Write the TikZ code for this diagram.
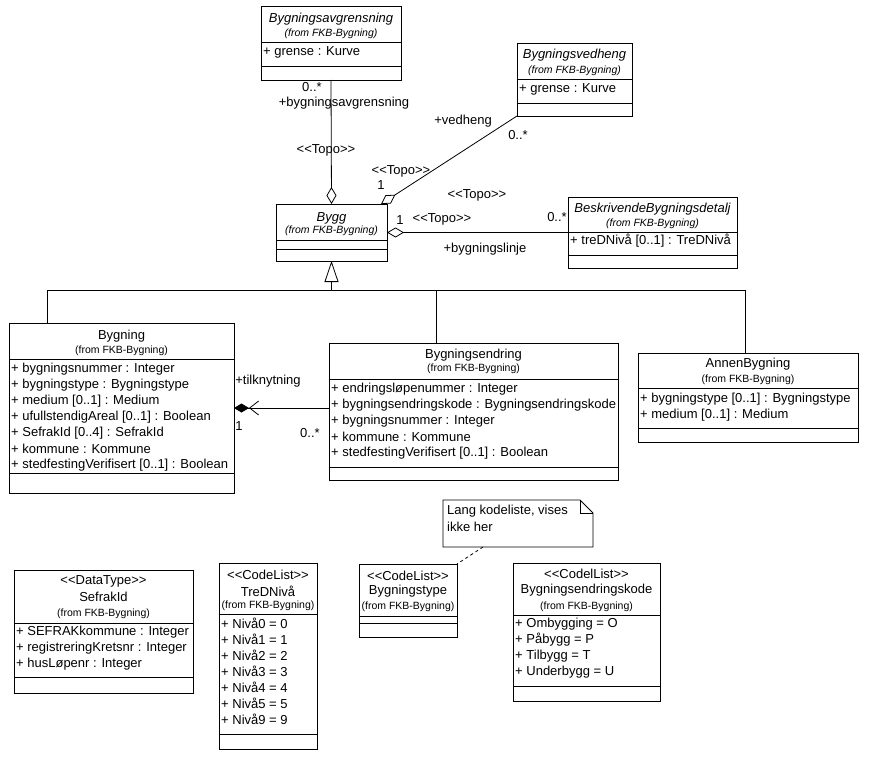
\documentclass[tikz,border=0pt]{standalone}
\usepackage{fontspec}
\setmainfont{Liberation Sans}
\usetikzlibrary{arrows.meta,calc}
\tikzset{
  ln/.style={line width=0.8pt, draw=black},
  cls/.style={draw=black, line width=0.8pt, inner sep=0pt, outer sep=0pt},
  txt/.style={inner sep=0pt, font=\fontsize{13}{15}\selectfont},
  itxt/.style={inner sep=0pt, font=\fontsize{13}{15}\selectfont\itshape},
  small/.style={inner sep=0pt, font=\fontsize{10.5}{12}\selectfont},
  ismall/.style={inner sep=0pt, font=\fontsize{10.5}{12}\selectfont\itshape},
  odiamond/.style={-{Diamond[open, fill=white, length=17pt, width=10pt]}},
}
\newcommand{\umlcls}[7]{%
  \node[cls, minimum width={(#4-#2)*1pt}, minimum height={(#5-#3)*1pt}] (#1) at ({(#2+#4)/2},{(#3+#5)/2}) {};
  \draw[ln] (#2,#6) -- (#4,#6);
  \draw[ln] (#2,#7) -- (#4,#7);
}
\newcommand{\attrs}[4]{%
  \foreach \t [count=\i] in {#4} \node[txt, anchor=west] (#1-a\i) at (#2,{#3+(\i-1)*16}) {\t};
}
\begin{document}
\begin{tikzpicture}[x=1pt,y=-1pt]
\fill[white] (0,0) rectangle (877,757);
\useasboundingbox (0,0) rectangle (877,757);

% ---------- classes ----------
\umlcls{avg}{261}{6}{401}{80}{42}{66}
\node[itxt] (avg-n) at (331,19) {Bygningsavgrensning};
\node[ismall] (avg-f) at (331,34) {(from FKB-Bygning)};
\attrs{avg}{263}{52}{{+ grense : Kurve}}

\umlcls{ved}{517}{43}{632}{116}{79}{103}
\node[itxt] (ved-n) at (574.5,55) {Bygningsvedheng};
\node[ismall] (ved-f) at (574.5,71) {(from FKB-Bygning)};
\attrs{ved}{519}{89}{{+ grense : Kurve}}

\umlcls{bygg}{276}{204}{387}{261}{240}{249}
\node[itxt] (bygg-n) at (331.5,218) {Bygg};
\node[ismall] (bygg-f) at (331.5,231) {(from FKB-Bygning)};

\umlcls{besk}{568}{197}{737}{268}{232}{255}
\node[itxt] (besk-n) at (652.5,209) {BeskrivendeBygningsdetalj};
\node[ismall] (besk-f) at (652.5,224) {(from FKB-Bygning)};
\attrs{besk}{570}{241}{{+ treDNivå [0..1] : TreDNivå}}

\umlcls{bygning}{9}{323}{234}{493}{359}{473}
\node[txt] (bygning-n) at (121.5,336) {Bygning};
\node[small] (bygning-f) at (121.5,351) {(from FKB-Bygning)};
\attrs{bygning}{11}{369}{{+ bygningsnummer : Integer},{+ bygningstype : Bygningstype},{+ medium [0..1] : Medium},{+ ufullstendigAreal [0..1] : Boolean},{+ SefrakId [0..4] : SefrakId},{+ kommune : Kommune},{+ stedfestingVerifisert [0..1] : Boolean}}

\umlcls{bygend}{329}{343}{618}{480}{379}{467}
\node[txt] (bygend-n) at (473.5,355) {Bygningsendring};
\node[small] (bygend-f) at (473.5,369) {(from FKB-Bygning)};
\attrs{bygend}{331}{389}{{+ endringsløpenummer : Integer},{+ bygningsendringskode : Bygningsendringskode},{+ bygningsnummer : Integer},{+ kommune : Kommune},{+ stedfestingVerifisert [0..1] : Boolean}}

\umlcls{annen}{638}{353}{858}{442}{388}{428}
\node[txt] (annen-n) at (748,364) {AnnenBygning};
\node[small] (annen-f) at (748,380) {(from FKB-Bygning)};
\attrs{annen}{640}{399}{{+ bygningstype [0..1] : Bygningstype},{+ medium [0..1] : Medium}}

\umlcls{sefrak}{14}{570}{193}{693}{623}{677}
\node[txt] (sefrak-s) at (103.5,581) {<{}<DataType>{}>};
\node[txt] (sefrak-n) at (103.5,597) {SefrakId};
\node[small] (sefrak-f) at (103.5,614) {(from FKB-Bygning)};
\attrs{sefrak}{16}{632}{{+ SEFRAKkommune : Integer},{+ registreringKretsnr : Integer},{+ husLøpenr : Integer}}

\umlcls{tred}{219}{563}{317}{749}{614}{734}
\node[txt] (tred-s) at (268,575) {<{}<CodeList>{}>};
\node[txt] (tred-n) at (268,591) {TreDNivå};
\node[small] (tred-f) at (268,606) {(from FKB-Bygning)};
\attrs{tred}{221}{623}{{+ Nivå0 = 0},{+ Nivå1 = 1},{+ Nivå2 = 2},{+ Nivå3 = 3},{+ Nivå4 = 4},{+ Nivå5 = 5},{+ Nivå9 = 9}}

\umlcls{btype}{359}{564}{457}{637}{616}{623}
\node[txt] (btype-s) at (408,576) {<{}<CodeList>{}>};
\node[txt] (btype-n) at (408,591) {Bygningstype};
\node[small] (btype-f) at (408,607) {(from FKB-Bygning)};

\umlcls{bek}{513}{563}{660}{701}{615}{686}
\node[txt] (bek-s) at (586.5,574) {<{}<CodelList>{}>};
\node[txt] (bek-n) at (586.5,590) {Bygningsendringskode};
\node[small] (bek-f) at (586.5,607) {(from FKB-Bygning)};
\attrs{bek}{515}{624}{{+ Ombygging = O},{+ Påbygg = P},{+ Tilbygg = T},{+ Underbygg = U}}

% ---------- note ----------
\node[inner sep=0pt, outer sep=0pt, minimum width=150pt, minimum height=47pt] (note) at (518,523.5) {};
\draw[ln] (note.south west) -- (note.north west) -- ($(note.north east)+(-13,0)$)
  -- ($(note.north east)+(0,13)$) -- (note.south east) -- cycle;
\draw[ln] ($(note.north east)+(-13,0)$) -- ($(note.north east)+(-13,13)$) -- ($(note.north east)+(0,13)$);
\node[txt, anchor=west] (note-t1) at (447,511) {Lang kodeliste, vises};
\node[txt, anchor=west] (note-t2) at (447,527) {ikke her};
\coordinate (notefoot) at ($(note.south west)+(40,0)$);
\draw[line width=0.8pt, dash pattern=on 3pt off 3pt] (notefoot) -- (btype.north east);

% ---------- associations ----------
\draw[ln, odiamond] (avg.south) -- (bygg.north);
\coordinate (byggtr) at ($(bygg.north east)+(-6,0)$);
\draw[ln, odiamond] (ved.south west) -- (byggtr);
\draw[ln, odiamond] (besk.west) -- (bygg.east);
\coordinate (tilk) at (bygend.west |- bygning.east);
\draw[ln, -{Straight Barb[length=9pt, width=14pt] Diamond[length=15pt, width=9pt]}] (tilk) -- (bygning.east);

% ---------- generalization ----------
\coordinate (gl) at (47,290);
\coordinate (gc) at (436,290);
\coordinate (gr) at (745,290);
\coordinate (gm) at (bygg.south |- gl);
\draw[ln] (gl |- bygning.north) -- (gl) -- (gr) -- (gr |- annen.north);
\draw[ln] (gc) -- (gc |- bygend.north);
\draw[ln, -{Triangle[open, fill=white, length=21pt, width=14pt]}] (gm) -- (bygg.south);

% ---------- labels ----------
\node[txt] (l1) at (312,87) {0..*};
\node[txt] (l2) at (344,103) {+bygningsavgrensning};
\node[txt] (l3) at (326,150) {<{}<Topo>{}>};
\node[txt] (l4) at (463,121) {+vedheng};
\node[txt] (l5) at (518,135) {0..*};
\node[txt] (l6) at (401,171) {<{}<Topo>{}>};
\node[txt] (l7) at (381,185) {1};
\node[txt] (l8) at (477,195) {<{}<Topo>{}>};
\node[txt] (l9) at (400,220) {1};
\node[txt] (l10) at (442,219) {<{}<Topo>{}>};
\node[txt] (l11) at (557,217) {0..*};
\node[txt] (l12) at (485,249) {+bygningslinje};
\node[txt] (l13) at (268,381) {+tilknytning};
\node[txt] (l14) at (239,426) {1};
\node[txt] (l15) at (310,433) {0..*};
\end{tikzpicture}
\end{document}
